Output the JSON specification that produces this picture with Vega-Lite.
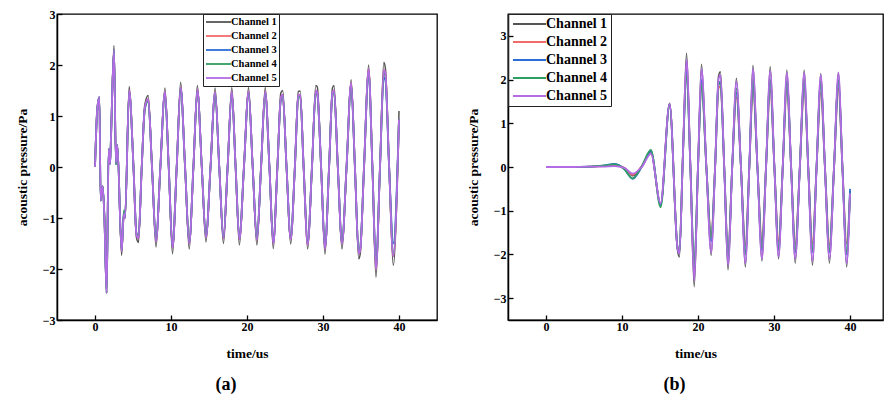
{
"$schema":"https://vega.github.io/schema/vega-lite/v6.json",
"padding":{"left":14,"top":7,"right":0,"bottom":0},
"spacing":27,
"resolve":{"scale":{"color":"independent"},"legend":{"color":"independent"}},
"config":{
 "view":{"stroke":"black","strokeWidth":1.3},
 "line":{"interpolate":"monotone","strokeWidth":1.8},
 "axis":{"domainColor":"black","domainWidth":1.5,"tickColor":"black","tickSize":-5,"tickWidth":1.3,"grid":false,"labelFont":"Liberation Serif","labelFontWeight":"bold","labelFontSize":12,"labelColor":"black","titleFont":"Liberation Serif","titleFontWeight":"bold","titleFontSize":13.5,"titleColor":"black","labelPadding":7,"titlePadding":13},
 "axisX":{"labelPadding":6,"titlePadding":14},
 "legend":{"strokeColor":"#222","labelFont":"Liberation Serif","labelFontWeight":"bold","labelColor":"black","symbolStrokeWidth":1.5,"title":null},
 "title":{"font":"Liberation Serif","fontSize":18,"fontWeight":"bold","color":"black"}
},
"datasets":{
"a":[
{"t":0,"c1":0,"c2":0,"c3":0,"c4":0,"c5":0},
{"t":0.3,"c1":1.14,"c2":1.14,"c3":1.14,"c4":1.14,"c5":1.14},
{"t":0.57,"c1":1.37,"c2":1.37,"c3":1.37,"c4":1.37,"c5":1.37},
{"t":0.75,"c1":-0.66,"c2":-0.66,"c3":-0.66,"c4":-0.66,"c5":-0.66},
{"t":1.0,"c1":-0.37,"c2":-0.37,"c3":-0.37,"c4":-0.37,"c5":-0.37},
{"t":1.23,"c1":-0.95,"c2":-0.95,"c3":-0.95,"c4":-0.95,"c5":-0.95},
{"t":1.53,"c1":-2.47,"c2":-2.47,"c3":-2.47,"c4":-2.47,"c5":-2.47},
{"t":1.8,"c1":0.35,"c2":0.35,"c3":0.35,"c4":0.35,"c5":0.35},
{"t":1.97,"c1":0.06,"c2":0.06,"c3":0.06,"c4":0.06,"c5":0.06},
{"t":2.05,"c1":0.33,"c2":0.33,"c3":0.33,"c4":0.33,"c5":0.33},
{"t":2.5,"c1":2.38,"c2":2.3,"c3":2.3,"c4":2.3,"c5":2.3},
{"t":2.76,"c1":0.05,"c2":0.05,"c3":0.05,"c4":0.05,"c5":0.08},
{"t":2.94,"c1":0.43,"c2":0.43,"c3":0.43,"c4":0.43,"c5":0.43},
{"t":3.5,"c1":-1.73,"c2":-1.65,"c3":-1.63,"c4":-1.63,"c5":-1.65},
{"t":3.8,"c1":-0.92,"c2":-0.92,"c3":-0.9,"c4":-0.85,"c5":-0.92},
{"t":3.95,"c1":-1.0,"c2":-1.0,"c3":-1.0,"c4":-0.98,"c5":-1.0},
{"t":4.5,"c1":1.58,"c2":1.5,"c3":1.48,"c4":1.48,"c5":1.5},
{"t":5.05,"c1":0.05,"c2":0.05,"c3":0.05,"c4":0.05,"c5":0.05},
{"t":5.45,"c1":-1.38,"c2":-1.32,"c3":-1.3,"c4":-1.3,"c5":-1.32},
{"t":5.72,"c1":-1.48,"c2":-1.4,"c3":-1.38,"c4":-1.36,"c5":-1.4},
{"t":6.15,"c1":0,"c2":0,"c3":0,"c4":0,"c5":0},
{"t":6.55,"c1":1.22,"c2":1.15,"c3":1.14,"c4":1.12,"c5":1.15},
{"t":7.0,"c1":1.4,"c2":1.33,"c3":1.31,"c4":1.3,"c5":1.33},
{"t":7.5,"c1":0,"c2":0,"c3":0,"c4":0,"c5":0},
{"t":8.03,"c1":-1.57,"c2":-1.46,"c3":-1.44,"c4":-1.43,"c5":-1.46},
{"t":8.6,"c1":0,"c2":0,"c3":0,"c4":0,"c5":0},
{"t":9.2,"c1":1.55,"c2":1.48,"c3":1.46,"c4":1.45,"c5":1.48},
{"t":9.7,"c1":0,"c2":0,"c3":0,"c4":0,"c5":0},
{"t":10.2,"c1":-1.7,"c2":-1.58,"c3":-1.56,"c4":-1.55,"c5":-1.58},
{"t":10.75,"c1":0,"c2":0,"c3":0,"c4":0,"c5":0},
{"t":11.27,"c1":1.66,"c2":1.56,"c3":1.54,"c4":1.53,"c5":1.56},
{"t":11.85,"c1":0,"c2":0,"c3":0,"c4":0,"c5":0},
{"t":12.4,"c1":-1.61,"c2":-1.5,"c3":-1.48,"c4":-1.47,"c5":-1.5},
{"t":12.95,"c1":0,"c2":0,"c3":0,"c4":0,"c5":0},
{"t":13.47,"c1":1.6,"c2":1.52,"c3":1.5,"c4":1.49,"c5":1.52},
{"t":14.05,"c1":0,"c2":0,"c3":0,"c4":0,"c5":0},
{"t":14.6,"c1":-1.47,"c2":-1.38,"c3":-1.36,"c4":-1.35,"c5":-1.38},
{"t":15.2,"c1":0,"c2":0,"c3":0,"c4":0,"c5":0},
{"t":15.8,"c1":1.55,"c2":1.47,"c3":1.45,"c4":1.44,"c5":1.47},
{"t":16.35,"c1":0,"c2":0,"c3":0,"c4":0,"c5":0},
{"t":16.9,"c1":-1.5,"c2":-1.4,"c3":-1.38,"c4":-1.37,"c5":-1.4},
{"t":17.45,"c1":0,"c2":0,"c3":0,"c4":0,"c5":0},
{"t":18.0,"c1":1.56,"c2":1.48,"c3":1.46,"c4":1.45,"c5":1.48},
{"t":18.5,"c1":0,"c2":0,"c3":0,"c4":0,"c5":0},
{"t":19.0,"c1":-1.53,"c2":-1.42,"c3":-1.4,"c4":-1.39,"c5":-1.42},
{"t":19.6,"c1":0,"c2":0,"c3":0,"c4":0,"c5":0},
{"t":20.2,"c1":1.56,"c2":1.48,"c3":1.46,"c4":1.45,"c5":1.48},
{"t":20.75,"c1":0,"c2":0,"c3":0,"c4":0,"c5":0},
{"t":21.3,"c1":-1.53,"c2":-1.43,"c3":-1.41,"c4":-1.4,"c5":-1.43},
{"t":21.85,"c1":0,"c2":0,"c3":0,"c4":0,"c5":0},
{"t":22.4,"c1":1.56,"c2":1.48,"c3":1.46,"c4":1.45,"c5":1.48},
{"t":22.95,"c1":0,"c2":0,"c3":0,"c4":0,"c5":0},
{"t":23.46,"c1":-1.6,"c2":-1.5,"c3":-1.48,"c4":-1.47,"c5":-1.5},
{"t":24.0,"c1":0,"c2":0,"c3":0,"c4":0,"c5":0},
{"t":24.45,"c1":1.45,"c2":1.35,"c3":1.33,"c4":1.32,"c5":1.35},
{"t":24.7,"c1":1.5,"c2":1.42,"c3":1.4,"c4":1.39,"c5":1.42},
{"t":25.2,"c1":0,"c2":0,"c3":0,"c4":0,"c5":0},
{"t":25.75,"c1":-1.51,"c2":-1.42,"c3":-1.4,"c4":-1.39,"c5":-1.42},
{"t":26.3,"c1":0,"c2":0,"c3":0,"c4":0,"c5":0},
{"t":26.75,"c1":1.48,"c2":1.4,"c3":1.38,"c4":1.37,"c5":1.4},
{"t":27.0,"c1":1.49,"c2":1.42,"c3":1.4,"c4":1.39,"c5":1.42},
{"t":27.45,"c1":0,"c2":0,"c3":0,"c4":0,"c5":0},
{"t":27.98,"c1":-1.61,"c2":-1.52,"c3":-1.5,"c4":-1.49,"c5":-1.52},
{"t":28.55,"c1":0,"c2":0,"c3":0,"c4":0,"c5":0},
{"t":29.05,"c1":1.6,"c2":1.5,"c3":1.48,"c4":1.47,"c5":1.5},
{"t":29.25,"c1":1.57,"c2":1.45,"c3":1.43,"c4":1.42,"c5":1.45},
{"t":29.75,"c1":0,"c2":0,"c3":0,"c4":0,"c5":0},
{"t":30.26,"c1":-1.71,"c2":-1.6,"c3":-1.58,"c4":-1.57,"c5":-1.6},
{"t":30.8,"c1":0,"c2":0,"c3":0,"c4":0,"c5":0},
{"t":31.25,"c1":1.55,"c2":1.47,"c3":1.45,"c4":1.44,"c5":1.47},
{"t":31.45,"c1":1.6,"c2":1.5,"c3":1.48,"c4":1.47,"c5":1.5},
{"t":31.95,"c1":0,"c2":0,"c3":0,"c4":0,"c5":0},
{"t":32.5,"c1":-1.61,"c2":-1.5,"c3":-1.48,"c4":-1.47,"c5":-1.5},
{"t":33.1,"c1":0,"c2":0,"c3":0,"c4":0,"c5":0},
{"t":33.7,"c1":1.71,"c2":1.65,"c3":1.62,"c4":1.62,"c5":1.65},
{"t":34.2,"c1":0,"c2":0,"c3":0,"c4":0,"c5":0},
{"t":34.7,"c1":-1.8,"c2":-1.7,"c3":-1.68,"c4":-1.67,"c5":-1.7},
{"t":34.9,"c1":-1.7,"c2":-1.62,"c3":-1.6,"c4":-1.59,"c5":-1.62},
{"t":35.4,"c1":0,"c2":0,"c3":0,"c4":0,"c5":0},
{"t":36.0,"c1":2.0,"c2":1.92,"c3":1.85,"c4":1.88,"c5":1.92},
{"t":36.5,"c1":0,"c2":0,"c3":0,"c4":0,"c5":0},
{"t":36.97,"c1":-2.16,"c2":-2.0,"c3":-1.9,"c4":-1.95,"c5":-2.0},
{"t":37.5,"c1":0,"c2":0,"c3":0,"c4":0,"c5":0},
{"t":38.0,"c1":2.05,"c2":1.9,"c3":1.75,"c4":1.85,"c5":1.9},
{"t":38.2,"c1":1.95,"c2":1.85,"c3":1.72,"c4":1.8,"c5":1.85},
{"t":38.7,"c1":0,"c2":0,"c3":0,"c4":0,"c5":0},
{"t":39.25,"c1":-1.93,"c2":-1.75,"c3":-1.5,"c4":-1.7,"c5":-1.75},
{"t":40,"c1":1.1,"c2":0.93,"c3":0.93,"c4":0.93,"c5":0.93}
],
"b":[
{"t":0,"c1":0,"c2":0,"c3":0,"c4":0,"c5":0},
{"t":3,"c1":0,"c2":0,"c3":0,"c4":0,"c5":0},
{"t":6,"c1":0.01,"c2":0.01,"c3":0.01,"c4":0.01,"c5":0.01},
{"t":7.5,"c1":0.02,"c2":0.02,"c3":0.03,"c4":0.03,"c5":0.01},
{"t":9,"c1":0.05,"c2":0.04,"c3":0.07,"c4":0.06,"c5":0.02},
{"t":10.3,"c1":-0.02,"c2":-0.02,"c3":-0.05,"c4":-0.05,"c5":-0.02},
{"t":11.4,"c1":-0.2,"c2":-0.18,"c3":-0.27,"c4":-0.26,"c5":-0.15},
{"t":12.6,"c1":0.02,"c2":0.02,"c3":0,"c4":0.02,"c5":0},
{"t":13.8,"c1":0.35,"c2":0.33,"c3":0.36,"c4":0.39,"c5":0.3},
{"t":15.08,"c1":-0.87,"c2":-0.85,"c3":-0.86,"c4":-0.92,"c5":-0.83},
{"t":16.26,"c1":1.46,"c2":1.44,"c3":1.43,"c4":1.4,"c5":1.44},
{"t":17.3,"c1":-1.9,"c2":-1.85,"c3":-1.85,"c4":-1.82,"c5":-1.85},
{"t":17.55,"c1":-2.06,"c2":-1.97,"c3":-1.97,"c4":-1.95,"c5":-1.98},
{"t":18.0,"c1":0.2,"c2":0.2,"c3":0.2,"c4":0.2,"c5":0.2},
{"t":18.49,"c1":2.6,"c2":2.3,"c3":2.2,"c4":2.1,"c5":2.45},
{"t":19.0,"c1":0,"c2":0,"c3":0,"c4":0,"c5":0},
{"t":19.5,"c1":-2.74,"c2":-2.45,"c3":-2.4,"c4":-2.3,"c5":-2.6},
{"t":20.0,"c1":0,"c2":0,"c3":0,"c4":0,"c5":0},
{"t":20.46,"c1":2.35,"c2":1.95,"c3":2.0,"c4":1.9,"c5":2.25},
{"t":21.1,"c1":0,"c2":0,"c3":0,"c4":0,"c5":0},
{"t":21.73,"c1":-2.02,"c2":-1.55,"c3":-1.7,"c4":-1.62,"c5":-1.95},
{"t":22.25,"c1":0,"c2":0,"c3":0,"c4":0,"c5":0},
{"t":22.7,"c1":2.08,"c2":1.8,"c3":1.9,"c4":1.88,"c5":2.0},
{"t":22.95,"c1":2.18,"c2":1.85,"c3":1.95,"c4":1.92,"c5":2.1},
{"t":23.45,"c1":0,"c2":0,"c3":0,"c4":0,"c5":0},
{"t":23.95,"c1":-2.35,"c2":-2.0,"c3":-2.1,"c4":-2.05,"c5":-2.25},
{"t":24.5,"c1":0,"c2":0,"c3":0,"c4":0,"c5":0},
{"t":25.05,"c1":2.03,"c2":1.6,"c3":1.7,"c4":1.8,"c5":1.95},
{"t":25.65,"c1":0,"c2":0,"c3":0,"c4":0,"c5":0},
{"t":26.23,"c1":-2.29,"c2":-1.8,"c3":-1.95,"c4":-2.0,"c5":-2.2},
{"t":26.75,"c1":0,"c2":0,"c3":0,"c4":0,"c5":0},
{"t":27.23,"c1":2.33,"c2":1.8,"c3":1.95,"c4":2.0,"c5":2.25},
{"t":27.82,"c1":0,"c2":0,"c3":0,"c4":0,"c5":0},
{"t":28.41,"c1":-2.15,"c2":-1.7,"c3":-1.9,"c4":-1.85,"c5":-2.1},
{"t":28.95,"c1":0,"c2":0,"c3":0,"c4":0,"c5":0},
{"t":29.5,"c1":2.3,"c2":1.78,"c3":1.95,"c4":2.0,"c5":2.2},
{"t":30.05,"c1":0,"c2":0,"c3":0,"c4":0,"c5":0},
{"t":30.6,"c1":-2.1,"c2":-1.7,"c3":-1.85,"c4":-1.9,"c5":-2.05},
{"t":31.15,"c1":0,"c2":0,"c3":0,"c4":0,"c5":0},
{"t":31.69,"c1":2.22,"c2":1.8,"c3":1.95,"c4":1.95,"c5":2.15},
{"t":32.25,"c1":0,"c2":0,"c3":0,"c4":0,"c5":0},
{"t":32.79,"c1":-2.2,"c2":-1.78,"c3":-1.95,"c4":-1.9,"c5":-2.1},
{"t":33.4,"c1":0,"c2":0,"c3":0,"c4":0,"c5":0},
{"t":33.97,"c1":2.22,"c2":1.8,"c3":1.95,"c4":2.0,"c5":2.15},
{"t":34.5,"c1":0,"c2":0,"c3":0,"c4":0,"c5":0},
{"t":35.06,"c1":-2.25,"c2":-1.75,"c3":-1.95,"c4":-1.9,"c5":-2.15},
{"t":35.6,"c1":0,"c2":0,"c3":0,"c4":0,"c5":0},
{"t":36.15,"c1":2.14,"c2":1.7,"c3":1.9,"c4":1.95,"c5":2.1},
{"t":36.7,"c1":0,"c2":0,"c3":0,"c4":0,"c5":0},
{"t":37.29,"c1":-2.2,"c2":-1.78,"c3":-1.95,"c4":-1.9,"c5":-2.1},
{"t":37.9,"c1":0,"c2":0,"c3":0,"c4":0,"c5":0},
{"t":38.47,"c1":2.17,"c2":1.8,"c3":1.95,"c4":2.0,"c5":2.15},
{"t":39.0,"c1":0,"c2":0,"c3":0,"c4":0,"c5":0},
{"t":39.56,"c1":-2.29,"c2":-1.75,"c3":-2.0,"c4":-1.95,"c5":-2.2},
{"t":40,"c1":-0.55,"c2":-0.6,"c3":-0.5,"c4":-0.6,"c5":-0.6}
]
},
"hconcat":[
{
 "width":380,"height":306,
 "data":{"name":"a"},
 "transform":[{"fold":["c1","c2","c3","c4","c5"],"as":["ch","v"]}],
 "title":{"text":"(a)","orient":"bottom","anchor":"middle","frame":"bounds","offset":16},
 "encoding":{
  "x":{"field":"t","type":"quantitative","scale":{"domain":[-5,45],"nice":false,"zero":false},"axis":{"title":"time/us","values":[0,10,20,30,40]}},
  "y":{"field":"v","type":"quantitative","scale":{"domain":[-3,3],"nice":false,"zero":false},"axis":{"title":"acoustic pressure/Pa","values":[-3,-2,-1,0,1,2,3]}},
  "color":{"field":"ch","type":"nominal","scale":{"domain":["c1","c2","c3","c4","c5"],"range":["#555555","#f26b6b","#2b6fd6","#2f9e63","#b36be6"]},
   "legend":{"orient":"none","legendX":146,"legendY":0,"labelExpr":"'Channel ' + substring(datum.label,1)","symbolType":"M-1,0H4","symbolSize":100,"labelFontSize":10.5,"labelOffset":14,"rowPadding":2,"padding":2}}
 },
 "layer":[
  {"transform":[{"filter":"datum.ch=='c1'"}],"mark":{"type":"line","strokeWidth":1.5}},
  {"transform":[{"filter":"datum.ch=='c2'"}],"mark":"line"},
  {"transform":[{"filter":"datum.ch=='c3'"}],"mark":"line"},
  {"transform":[{"filter":"datum.ch=='c4'"}],"mark":"line"},
  {"transform":[{"filter":"datum.ch=='c5'"}],"mark":"line"}
 ]
},
{
 "width":375,"height":306,
 "data":{"name":"b"},
 "transform":[{"fold":["c1","c2","c3","c4","c5"],"as":["ch","v"]}],
 "title":{"text":"(b)","orient":"bottom","anchor":"middle","frame":"bounds","offset":16},
 "encoding":{
  "x":{"field":"t","type":"quantitative","scale":{"domain":[-5,44.34],"nice":false,"zero":false},"axis":{"title":"time/us","values":[0,10,20,30,40]}},
  "y":{"field":"v","type":"quantitative","scale":{"domain":[-3.5,3.5],"nice":false,"zero":false},"axis":{"title":"acoustic pressure/Pa","values":[-3,-2,-1,0,1,2,3]}},
  "color":{"field":"ch","type":"nominal","scale":{"domain":["c1","c2","c3","c4","c5"],"range":["#555555","#f26b6b","#2b6fd6","#2f9e63","#b36be6"]},
   "legend":{"orient":"none","legendX":0,"legendY":0,"labelExpr":"'Channel ' + substring(datum.label,1)","symbolType":"M-1,0H5.6","symbolSize":100,"labelFontSize":14,"labelOffset":21,"rowPadding":4,"padding":3}}
 },
 "layer":[
  {"transform":[{"filter":"datum.ch=='c1'"}],"mark":{"type":"line","strokeWidth":1.5}},
  {"transform":[{"filter":"datum.ch=='c2'"}],"mark":"line"},
  {"transform":[{"filter":"datum.ch=='c3'"}],"mark":"line"},
  {"transform":[{"filter":"datum.ch=='c4'"}],"mark":"line"},
  {"transform":[{"filter":"datum.ch=='c5'"}],"mark":"line"}
 ]
}
]
}
